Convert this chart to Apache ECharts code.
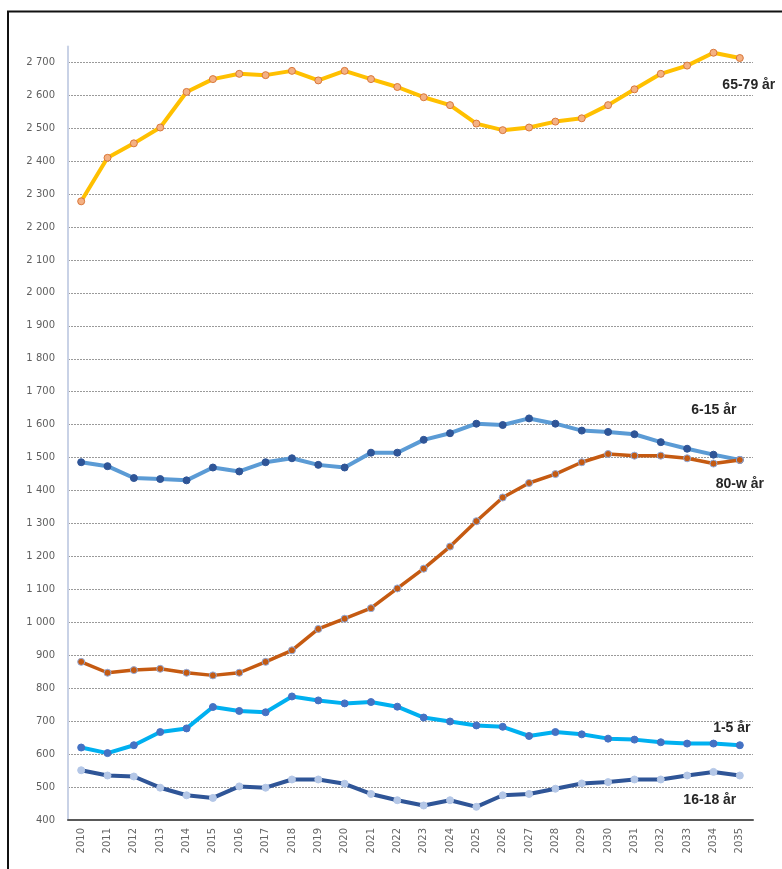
<!DOCTYPE html>
<html>
<head>
<meta charset="utf-8">
<script src="https://cdn.jsdelivr.net/npm/echarts@6/dist/echarts.min.js"></script>
<style>
html,body{margin:0;padding:0;background:#fff;}
#c{width:782px;height:869px;}
</style>
</head>
<body>
<div id="c"></div>
<script>
var years = ['2010','2011','2012','2013','2014','2015','2016','2017','2018','2019','2020','2021','2022','2023','2024','2025','2026','2027','2028','2029','2030','2031','2032','2033','2034','2035'];
var age6579 = [2278,2410,2454,2502,2610,2649,2665,2661,2674,2645,2674,2649,2625,2594,2570,2514,2494,2502,2520,2530,2570,2618,2665,2690,2729,2713];
var age615  = [1486,1474,1438,1435,1431,1470,1458,1486,1498,1478,1470,1515,1515,1554,1574,1603,1599,1619,1603,1582,1578,1571,1547,1527,1509,1493];
var age80   = [880,847,855,859,847,839,847,880,915,980,1011,1043,1103,1163,1230,1307,1379,1423,1450,1486,1511,1506,1506,1498,1482,1493];
var age15   = [620,603,627,667,678,743,731,727,775,763,754,758,744,711,699,687,683,655,667,660,647,644,636,632,632,627];
var age1618 = [551,535,532,498,475,467,502,498,523,523,510,479,460,444,460,440,475,479,495,511,515,523,523,535,546,535];
var seriesNames = ['65-79 år','6-15 år','80-w år','1-5 år','16-18 år'];
var yMin = 400, yMax = 2700, yStep = 100;

function withEndLabel(arr, text, offset) {
  return arr.map(function (v, i) {
    if (i !== arr.length - 1) return v;
    return {
      value: v,
      label: {
        show: true, formatter: text, position: 'inside', offset: offset,
        color: '#262626', fontFamily: 'Liberation Sans', fontWeight: 'bold', fontSize: 14
      }
    };
  });
}

function mkSeries(name, data, lineColor, width, mFill, mBorder, offset) {
  return {
    name: name, type: 'line', xAxisIndex: 0, yAxisIndex: 0,
    data: withEndLabel(data, name, offset),
    clip: false,
    symbol: 'circle', symbolSize: 7,
    lineStyle: { color: lineColor, width: width },
    itemStyle: { color: mFill, borderColor: mBorder, borderWidth: 1 },
    label: { show: false },
    emphasis: { disabled: true },
    animation: false
  };
}

var chart = echarts.init(document.getElementById('c'));
chart.setOption({
  backgroundColor: '#fff',
  animation: false,
  graphic: [{
    type: 'polyline',
    shape: { points: [[8, 869], [8, 11.5], [782, 11.5]] },
    style: { stroke: '#111', lineWidth: 2, fill: null }
  }],
  grid: [
    { left: 68, right: 29, top: 62.3, bottom: 49 },
    { left: 68, right: 29, top: 46.5, bottom: 49 }
  ],
  xAxis: [{
    type: 'category', gridIndex: 0, data: years, boundaryGap: true,
    axisLine: { show: true, lineStyle: { color: '#595959', width: 2 } },
    axisTick: { show: false },
    axisLabel: { rotate: 90, margin: 8, color: '#666', fontFamily: 'DejaVu Sans', fontSize: 10, interval: 0 }
  }, {
    type: 'category', gridIndex: 1, data: years, show: false
  }],
  yAxis: [{
    type: 'value', gridIndex: 0, min: yMin, max: yMax, interval: yStep,
    axisLine: { show: false }, axisTick: { show: false },
    axisLabel: {
      margin: 13, color: '#5f5f5f', fontFamily: 'DejaVu Sans', fontSize: 10,
      formatter: function (v) { return String(v).replace(/\B(?=(\d{3})+(?!\d))/g, ' '); }
    },
    splitLine: { show: true, lineStyle: { color: '#9a9a9a', width: 1, type: [2, 1] } }
  }, {
    type: 'value', gridIndex: 1, min: 0, max: 1,
    axisLine: { show: true, lineStyle: { color: '#C9D2E6', width: 2 } },
    axisTick: { show: false }, axisLabel: { show: false }, splitLine: { show: false }
  }],
  series: [
    mkSeries(seriesNames[0], age6579, '#FFC000', 4, '#F4B183', '#D9773A', [9, 27]),
    mkSeries(seriesNames[1], age615, '#5B9BD5', 4, '#2F5597', '#2F5597', [-26, -50]),
    mkSeries(seriesNames[2], age80, '#C55A11', 3.5, '#C55A11', '#8FAADC', [0, 24]),
    mkSeries(seriesNames[3], age15, '#00B0F0', 4, '#4472C4', '#4472C4', [-8, -17]),
    mkSeries(seriesNames[4], age1618, '#2F5597', 4, '#B4C7E7', '#B4C7E7', [-30, 25])
  ]
});
</script>
</body>
</html>
